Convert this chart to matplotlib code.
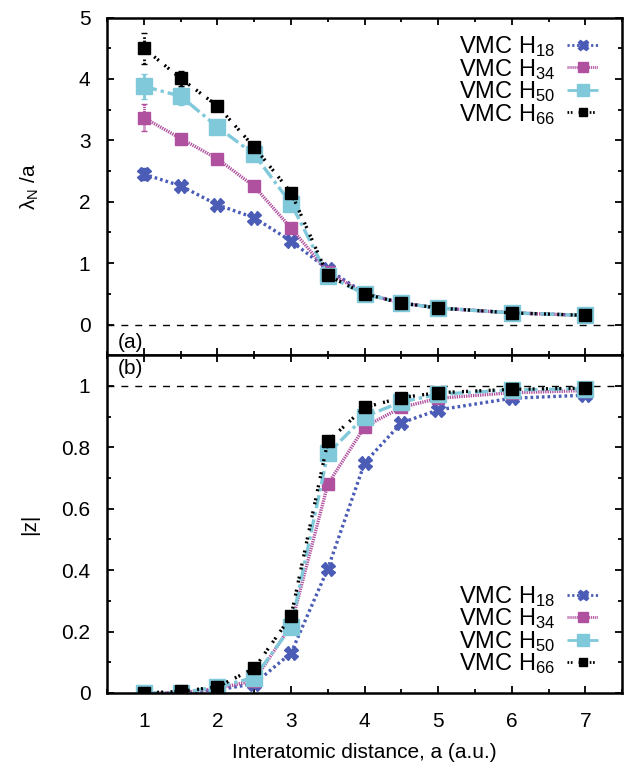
import matplotlib
matplotlib.use('Agg')
import matplotlib.pyplot as plt
from matplotlib.lines import Line2D
from matplotlib.ticker import MultipleLocator
import numpy as np
matplotlib.rcParams['mathtext.default'] = 'regular'
matplotlib.rcParams['font.family'] = ['Liberation Sans', 'DejaVu Sans']

a = [1, 1.5, 2, 2.5, 3, 3.5, 4, 4.5, 5, 6, 7]
labels = ['VMC H$_{18}$', 'VMC H$_{34}$', 'VMC H$_{50}$', 'VMC H$_{66}$']

lam_h18 = [2.45, 2.26, 1.95, 1.74, 1.36, 0.90, 0.51, 0.35, 0.27, 0.19, 0.15]
lam_h34 = [3.37, 3.03, 2.70, 2.25, 1.57, 0.86, 0.50, 0.35, 0.27, 0.19, 0.15]
lam_h50 = [3.88, 3.72, 3.22, 2.77, 1.97, 0.79, 0.50, 0.35, 0.27, 0.19, 0.15]
lam_h66 = [4.50, 4.01, 3.56, 2.89, 2.15, 0.80, 0.50, 0.35, 0.27, 0.19, 0.15]

lam_err_h18 = [0.10, 0.05, 0.03, 0.02, 0.02, 0.01, 0.01, 0, 0, 0, 0]
lam_err_h34 = [0.22, 0.08, 0.04, 0.03, 0.02, 0.01, 0.01, 0, 0, 0, 0]
lam_err_h50 = [0.20, 0.15, 0.05, 0.04, 0.03, 0.01, 0.01, 0, 0, 0, 0]
lam_err_h66 = [0.25, 0.12, 0.05, 0.04, 0.03, 0.01, 0.01, 0, 0, 0, 0]

z_h18 = [0, 0, 0.010, 0.030, 0.130, 0.405, 0.750, 0.880, 0.922, 0.960, 0.970]
z_h34 = [0, 0, 0.015, 0.040, 0.220, 0.680, 0.867, 0.930, 0.960, 0.978, 0.985]
z_h50 = [0, 0, 0.020, 0.050, 0.215, 0.780, 0.900, 0.948, 0.973, 0.987, 0.991]
z_h66 = [0, 0.005, 0.020, 0.080, 0.250, 0.820, 0.930, 0.962, 0.978, 0.989, 0.993]

colors = ['#4a5cb6', '#b0519f', '#80c9da', '#000000']
markers = ['X', 's', 's', 's']
msizes = [10, 9, 11, 8.5]
styles = [(0, (0.8, 0.9)), (0, (0.4, 0.3)), (0, (4, 1.2, 1, 1.2)), (0, (0.6, 0.6, 0.6, 2.2))]

lam = [lam_h18, lam_h34, lam_h50, lam_h66]
lam_err = [lam_err_h18, lam_err_h34, lam_err_h50, lam_err_h66]
zs = [z_h18, z_h34, z_h50, z_h66]

fig = plt.figure(figsize=(6.26, 7.64), dpi=100)
ax1 = fig.add_axes([0.171, 0.535, 0.823, 0.442])
ax2 = fig.add_axes([0.171, 0.093, 0.823, 0.442])

for i in range(4):
    eb = ax1.errorbar(a, lam[i], yerr=lam_err[i], color=colors[i], marker=markers[i],
                      ms=msizes[i], lw=2.4, ls=styles[i], capsize=2, elinewidth=2)
    eb[-1][0].set_linestyle(styles[i])
    ax2.errorbar(a, zs[i], yerr=[0.003] * len(a), color=colors[i], marker=markers[i],
                 ms=msizes[i], lw=2.4, ls=styles[i], capsize=2, elinewidth=2)

ax1.axhline(0, color='black', ls=(0, (5, 5)), lw=1)
ax2.axhline(1, color='black', ls=(0, (5, 5)), lw=1)

ax1.set_xlim(0.5, 7.5)
ax1.set_ylim(-0.5, 5)
ax2.set_xlim(0.5, 7.5)
ax2.set_ylim(0, 1.1)

ax1.yaxis.set_major_locator(MultipleLocator(1))
ax1.yaxis.set_minor_locator(MultipleLocator(0.5))
ax2.yaxis.set_minor_locator(MultipleLocator(0.1))
ax2.set_yticks([0, 0.2, 0.4, 0.6, 0.8, 1])
ax2.set_yticklabels(['0', '0.2', '0.4', '0.6', '0.8', '1'])
for ax in (ax1, ax2):
    ax.xaxis.set_major_locator(MultipleLocator(1))
    ax.xaxis.set_minor_locator(MultipleLocator(0.5))
    ax.tick_params(which='both', direction='in', top=True, right=True, labelsize=15, width=1.3)
    ax.tick_params(which='major', length=5)
    ax.tick_params(which='minor', length=3)
    for s in ax.spines.values():
        s.set_linewidth(1.8)
ax1.tick_params(labelbottom=False)
ax1.tick_params(axis='y', pad=12)
ax2.tick_params(axis='y', pad=12)
ax2.tick_params(axis='x', pad=14)

ax1.set_ylabel('λ$_N$ /a', fontsize=15, labelpad=27)
ax2.set_ylabel('|z|', fontsize=15, labelpad=16)
ax2.set_xlabel('Interatomic distance, a (a.u.)', fontsize=15, labelpad=8)

ax1.text(0.02, 0.01, '(a)', transform=ax1.transAxes, fontsize=15, va='bottom')
ax2.text(0.02, 0.99, '(b)', transform=ax2.transAxes, fontsize=15, va='top')

handles = [Line2D([], [], color=colors[i], marker=markers[i], ms=msizes[i] * 0.75,
                  lw=2, ls=styles[i]) for i in range(4)]
ax1.legend(handles, labels, loc='upper right', frameon=False, markerfirst=False, fontsize=17,
           labelspacing=-0.1, handlelength=1.3, handletextpad=0.5, borderaxespad=0.3,
           bbox_to_anchor=(0.985, 1.0))
ax2.legend(handles, labels, loc='lower right', frameon=False, markerfirst=False, fontsize=17,
           labelspacing=-0.1, handlelength=1.3, handletextpad=0.5, borderaxespad=0.3,
           bbox_to_anchor=(0.985, 0.0))

plt.savefig('out.png', dpi=100)
